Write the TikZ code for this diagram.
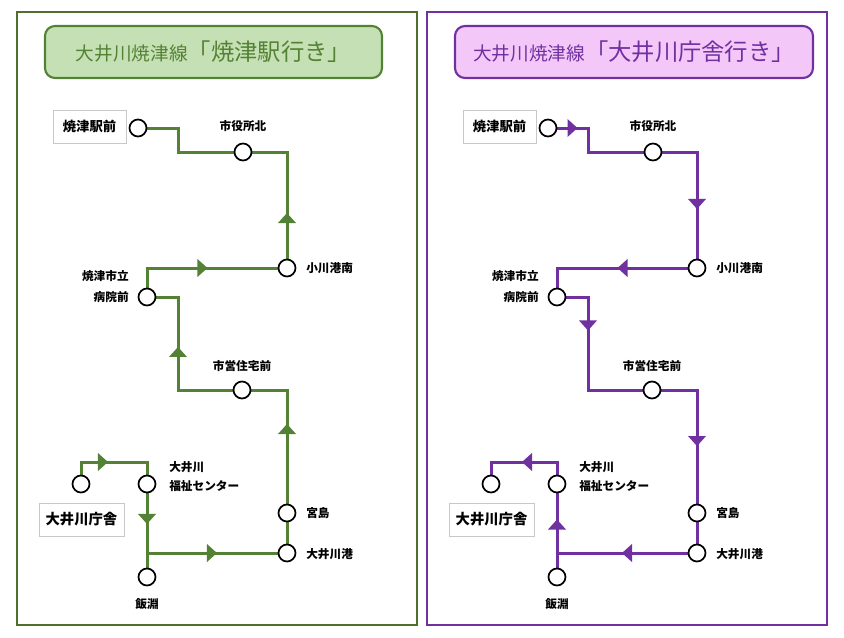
\documentclass[tikz,border=0pt]{standalone}
\usepackage{fontspec}
\newfontfamily\jp{Noto Sans CJK JP}
\usetikzlibrary{decorations.markings,backgrounds}
\definecolor{gline}{HTML}{548235}
\definecolor{gframe}{HTML}{4F6F2F}
\definecolor{gfill}{HTML}{C5E0B4}
\definecolor{pline}{HTML}{7030A0}
\definecolor{pfill}{HTML}{F4C7F9}
\definecolor{boxgray}{HTML}{C8C8C8}
\tikzset{
  stn/.style={circle, draw=black, fill=white, line width=1.3pt, minimum size=12.75pt, inner sep=0pt},
  lbl/.style={inner sep=0pt, font=\jp\bfseries\fontsize{8.75}{10}\selectfont},
  lbox/.style={draw=boxgray, fill=white, line width=0.7pt, inner sep=0pt, font=\jp\bfseries\fontsize{10}{12}\selectfont},
  frame/.style={draw=#1, line width=1.5pt, minimum width=300pt, minimum height=459.75pt, inner sep=0pt},
  tbox/.style={rounded corners=7.5pt, line width=1.6pt, minimum height=39pt, inner sep=0pt},
  route/.style={draw=#1, line width=2.25pt},
  amk/.style n args={2}{postaction={decorate,decoration={markings,
     mark=at position #1 with {\fill[#2] (3.75pt,0pt) -- (-3.75pt,6.75pt) -- (-3.75pt,-6.75pt) -- cycle;}}}},
}
\begin{document}
\begin{tikzpicture}[x=0.75pt,y=-0.75pt]
\useasboundingbox (0,0) rectangle (844,637);
% ================= LEFT PANEL =================
\node[frame=gframe] (lframe) at (217,318.5) {};
\node[tbox, draw=gline, fill=gfill, minimum width=252.75pt, text=gline] (ltitle) at (213.5,52)
  {\jp\fontsize{14}{16}\selectfont 大井川焼津線\fontsize{17.5}{20}\selectfont 「焼津駅行き」};
% stations
\node[stn] (ls1) at (138,128) {};
\node[stn] (ls2) at (243,152) {};
\node[stn] (ls3) at (287,268) {};
\node[stn] (ls4) at (147,297) {};
\node[stn] (ls5) at (242,390) {};
\node[stn] (ls6) at (287,513) {};
\node[stn] (ls7) at (287,553) {};
\node[stn] (ls8) at (147,484) {};
\node[stn] (ls9) at (81,484) {};
\node[stn] (ls10) at (147,577) {};
% bends
\coordinate (lb1) at (178,128);
\coordinate (lb2) at (178,152);
\coordinate (lb3) at (287,152);
\coordinate (lb4) at (147,268);
\coordinate (lb5) at (178,297);
\coordinate (lb6) at (178,390);
\coordinate (lb7) at (287,390);
\coordinate (lj) at (147,553);
\coordinate (lb8) at (147,462);
\coordinate (lb9) at (81,462);
% labels
\node[lbox, minimum width=54.75pt, minimum height=24.75pt] (lbx1) at (89.5,126.5) {焼津駅前};
\node[lbl] (ll2) at (243,126) {市役所北};
\node[lbl, anchor=west] (ll3) at (306,268) {小川港南};
\node[lbl, anchor=east] (ll4a) at (129,276) {焼津市立};
\node[lbl, anchor=east] (ll4b) at (129,297) {病院前};
\node[lbl] (ll5) at (242,366) {市営住宅前};
\node[lbl, anchor=west] (ll6) at (306,513) {宮島};
\node[lbl, anchor=west] (ll7) at (306,554) {大井川港};
\node[lbl, anchor=west] (ll8a) at (169,467) {大井川};
\node[lbl, anchor=west] (ll8b) at (169,486) {福祉センター};
\node[lbl] (ll10) at (147,604) {飯淵};
\node[lbox, minimum width=63.75pt, minimum height=24.75pt, font=\jp\bfseries\fontsize{10.75}{12}\selectfont] (lbx9) at (81.5,519.5) {大井川庁舎};
\begin{scope}[on background layer]
\fill[white] (0,0) rectangle (844,637);
\draw[route=gline] (ls1.center) -- (lb1) -- (lb2) -- (ls2.center) -- (lb3) -- (ls3.center) -- (lb4) -- (ls4.center);
\draw[route=gline] (ls4.center) -- (lb5) -- (lb6) -- (ls5.center) -- (lb7) -- (ls6.center) -- (ls7.center) -- (lj);
\draw[route=gline] (ls9.center) -- (lb9) -- (lb8) -- (ls8.center) -- (ls10.center);
\end{scope}
\path[amk={0.431}{gline}] (ls3.center) -- (lb3);
\path[amk={0.396}{gline}] (lb4) -- (ls3.center);
\path[amk={0.409}{gline}] (lb6) -- (lb5);
\path[amk={0.683}{gline}] (ls6.center) -- (lb7);
\path[amk={0.464}{gline}] (lj) -- (ls7.center);
\path[amk={0.507}{gline}] (ls8.center) -- (lj);
\path[amk={0.333}{gline}] (lb9) -- (lb8);
% ================= RIGHT PANEL =================
\node[frame=pline] (rframe) at (627,318.5) {};
\node[tbox, draw=pline, fill=pfill, minimum width=268.5pt, text=pline] (rtitle) at (634,52)
  {\jp\fontsize{14}{16}\selectfont 大井川焼津線\fontsize{17.5}{20}\selectfont 「大井川庁舎行き」};
\node[stn] (rs1) at (548,128) {};
\node[stn] (rs2) at (653,152) {};
\node[stn] (rs3) at (697,268) {};
\node[stn] (rs4) at (557,297) {};
\node[stn] (rs5) at (652,390) {};
\node[stn] (rs6) at (697,513) {};
\node[stn] (rs7) at (697,553) {};
\node[stn] (rs8) at (557,484) {};
\node[stn] (rs9) at (491,484) {};
\node[stn] (rs10) at (557,577) {};
\coordinate (rb1) at (588,128);
\coordinate (rb2) at (588,152);
\coordinate (rb3) at (697,152);
\coordinate (rb4) at (557,268);
\coordinate (rb5) at (588,297);
\coordinate (rb6) at (588,390);
\coordinate (rb7) at (697,390);
\coordinate (rj) at (557,553);
\coordinate (rb8) at (557,462);
\coordinate (rb9) at (491,462);
\node[lbox, minimum width=54.75pt, minimum height=24.75pt] (rbx1) at (499.5,126.5) {焼津駅前};
\node[lbl] (rl2) at (653,126) {市役所北};
\node[lbl, anchor=west] (rl3) at (716,268) {小川港南};
\node[lbl, anchor=east] (rl4a) at (539,276) {焼津市立};
\node[lbl, anchor=east] (rl4b) at (539,297) {病院前};
\node[lbl] (rl5) at (652,366) {市営住宅前};
\node[lbl, anchor=west] (rl6) at (716,513) {宮島};
\node[lbl, anchor=west] (rl7) at (716,554) {大井川港};
\node[lbl, anchor=west] (rl8a) at (579,467) {大井川};
\node[lbl, anchor=west] (rl8b) at (579,486) {福祉センター};
\node[lbl] (rl10) at (557,604) {飯淵};
\node[lbox, minimum width=63.75pt, minimum height=24.75pt, font=\jp\bfseries\fontsize{10.75}{12}\selectfont] (rbx9) at (491.5,519.5) {大井川庁舎};
\begin{scope}[on background layer]
\draw[route=pline] (rs1.center) -- (rb1) -- (rb2) -- (rs2.center) -- (rb3) -- (rs3.center) -- (rb4) -- (rs4.center);
\draw[route=pline] (rs4.center) -- (rb5) -- (rb6) -- (rs5.center) -- (rb7) -- (rs6.center) -- (rs7.center) -- (rj);
\draw[route=pline] (rs9.center) -- (rb9) -- (rb8) -- (rs8.center) -- (rs10.center);
\end{scope}
\path[amk={0.6125}{pline}] (rs1.center) -- (rb1);
\path[amk={0.448}{pline}] (rb3) -- (rs3.center);
\path[amk={0.532}{pline}] (rs3.center) -- (rb4);
\path[amk={0.306}{pline}] (rb5) -- (rb6);
\path[amk={0.415}{pline}] (rb7) -- (rs6.center);
\path[amk={0.5}{pline}] (rs7.center) -- (rj);
\path[amk={0.413}{pline}] (rj) -- (rs8.center);
\path[amk={0.4545}{pline}] (rb8) -- (rb9);
\end{tikzpicture}
\end{document}
